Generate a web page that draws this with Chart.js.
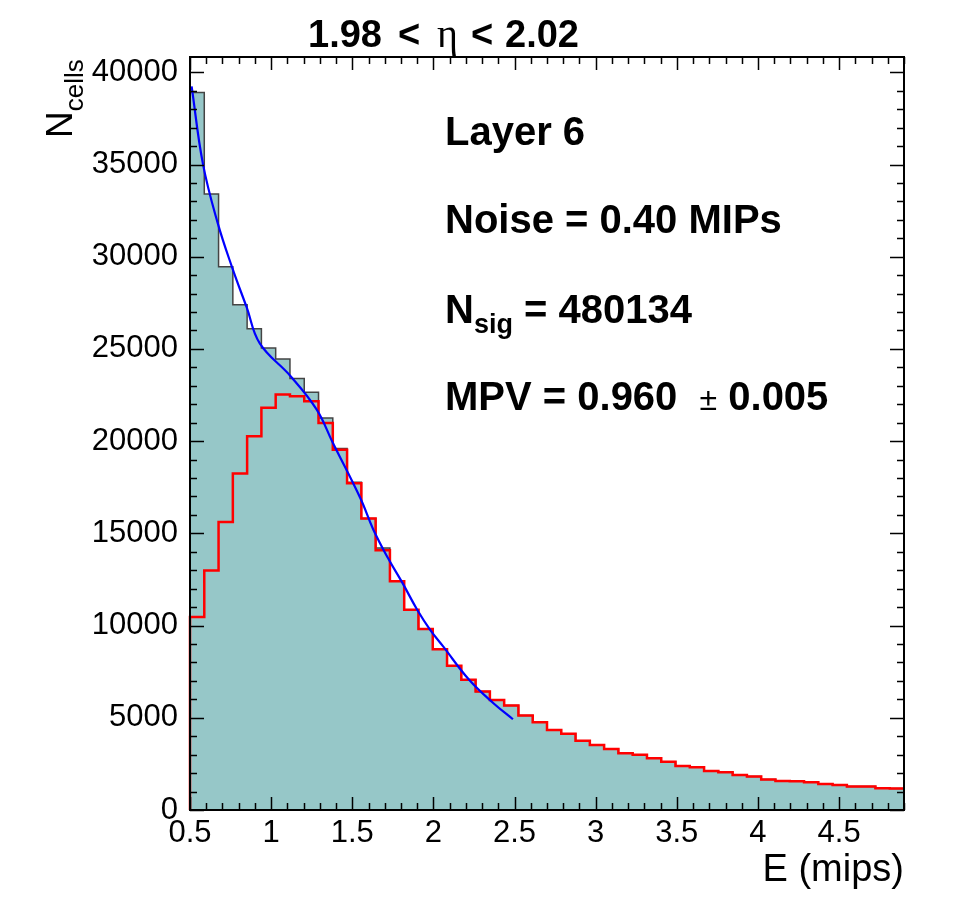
<!DOCTYPE html>
<html>
<head>
<meta charset="utf-8">
<script src="https://cdn.jsdelivr.net/npm/chart.js@4.4.1/dist/chart.umd.min.js"></script>
<style>
  html, body { margin: 0; padding: 0; background: #fff; }
</style>
</head>
<body>
<canvas id="histChart" width="960" height="897"></canvas>
<script>
// binning of the histograms
const xMin = 0.5;
const xMax = 4.9;
const nBins = 50;
const yMax = 40830;

// all cells above threshold (grey filled histogram)
const allCells = [38900, 33400, 29450, 27400, 26100, 25050, 24450, 23400, 22650, 21250,
  19600, 17770, 15800, 14200, 12400, 10860, 9810, 8720, 7820, 7060,
  6420, 5970, 5660, 5120, 4760, 4340, 4130, 3750, 3530, 3310,
  3080, 2990, 2800, 2620, 2390, 2320, 2120, 2050, 1900, 1810,
  1660, 1570, 1560, 1500, 1410, 1360, 1270, 1280, 1180, 1170];

// signal cells (red line)
const signalCells = [10460, 12980, 15620, 18240, 20270, 21810, 22530, 22440, 22170, 20990,
  19540, 17720, 15800, 14080, 12400, 10860, 9810, 8720, 7820, 7060,
  6420, 5970, 5660, 5120, 4760, 4340, 4130, 3750, 3530, 3310,
  3080, 2990, 2800, 2620, 2390, 2320, 2120, 2050, 1900, 1810,
  1660, 1570, 1560, 1500, 1410, 1360, 1270, 1280, 1180, 1170];

// fit curve
const fitE = [0.51, 0.58, 0.67, 0.76, 0.85, 0.93, 1.12, 1.28, 1.38, 1.55,
  1.63, 1.72, 1.81, 1.90, 1.98, 2.06, 2.22, 2.37, 2.49];
const fitN = [39240, 35020, 31850, 29410, 27240, 25300, 23520, 21720, 19910, 16900,
  15200, 13660, 12300, 10860, 9770, 8870, 7060, 5790, 4920];

// axis labels
const xTickValues = [0.5, 1, 1.5, 2, 2.5, 3, 3.5, 4, 4.5];
const yTickValues = [0, 5000, 10000, 15000, 20000, 25000, 30000, 35000, 40000];

const sans = "'Liberation Sans', Arial, sans-serif";

function stepData(counts) {
  const w = (xMax - xMin) / nBins;
  const pts = [{ x: xMin, y: 0 }];
  counts.forEach((c, i) => pts.push({ x: xMin + i * w, y: c }));
  pts.push({ x: xMax, y: counts[counts.length - 1] });
  return pts;
}

// frame, inner ticks and text, ROOT style
const rootFrame = {
  id: "rootFrame",
  afterDatasetsDraw(chart) {
    const { ctx, chartArea: a, scales } = chart;
    const xs = scales.x, ys = scales.y;
    ctx.save();
    ctx.strokeStyle = "#000";
    ctx.lineWidth = 1.5;
    ctx.beginPath();
    for (let i = 0; i <= 44; i++) {
      const v = xMin + i * 0.1;
      const len = i % 5 === 0 ? 13 : 7;
      const px = Math.round(xs.getPixelForValue(v)) + 0.5;
      ctx.moveTo(px, a.bottom); ctx.lineTo(px, a.bottom - len);
      ctx.moveTo(px, a.top); ctx.lineTo(px, a.top + len);
    }
    for (let v = 0; v <= yMax; v += 1000) {
      const len = v % 5000 === 0 ? 14 : 7;
      const py = Math.round(ys.getPixelForValue(v)) + 0.5;
      ctx.moveTo(a.left, py); ctx.lineTo(a.left + len, py);
      ctx.moveTo(a.right, py); ctx.lineTo(a.right - len, py);
    }
    ctx.stroke();
    ctx.lineWidth = 2;
    ctx.strokeRect(a.left, a.top, a.right - a.left, a.bottom - a.top);

    ctx.fillStyle = "#000";
    ctx.textBaseline = "alphabetic";

    // title, pieces spaced like TLatex
    const tFont = "bold 38px " + sans;
    ctx.font = tFont;
    ctx.fillText("1.98", 308, 47);
    ctx.fillText("<", 398, 47);
    ctx.font = "40px 'Liberation Serif', serif";
    ctx.fillText("\u03b7", 437, 47);
    ctx.font = tFont;
    ctx.fillText("<", 471, 47);
    ctx.fillText("2.02", 505, 47);

    // annotations
    const big = "bold 40px " + sans;
    ctx.font = big;
    ctx.fillText("Layer 6", 445, 145);
    ctx.fillText("Noise = 0.40 MIPs", 445, 233);
    ctx.fillText("N", 445, 323);
    let x = 445 + ctx.measureText("N").width;
    ctx.font = "bold 27px " + sans;
    ctx.fillText("sig", x, 333);
    x += ctx.measureText("sig").width;
    ctx.font = big;
    ctx.fillText(" = 480134", x, 323);
    ctx.fillText("MPV = 0.960  ", 445, 410);
    x = 445 + ctx.measureText("MPV = 0.960  ").width;
    ctx.font = "32px " + sans;
    ctx.fillText("\u00b1", x, 410);
    x += ctx.measureText("\u00b1").width;
    ctx.font = big;
    ctx.fillText(" 0.005", x, 410);

    // x axis title
    ctx.font = "38px " + sans;
    ctx.textAlign = "right";
    ctx.fillText("E (mips)", a.right, 881);

    // y axis title
    ctx.textAlign = "left";
    ctx.translate(72, 138);
    ctx.rotate(-Math.PI / 2);
    ctx.font = "37px " + sans;
    ctx.fillText("N", 0, 0);
    const wN = ctx.measureText("N").width;
    ctx.font = "26px " + sans;
    ctx.fillText("cells", wN, 11);
    ctx.restore();
  }
};

const ctx = document.getElementById("histChart").getContext("2d");
new Chart(ctx, {
  type: "line",
  data: {
    datasets: [
      {
        label: "fit",
        data: fitE.map((e, i) => ({ x: e, y: fitN[i] })),
        borderColor: "#0000ff",
        borderWidth: 2.2,
        pointRadius: 0,
        tension: 0.4,
        fill: false,
        order: 1
      },
      {
        label: "signal",
        data: stepData(signalCells),
        stepped: true,
        borderColor: "#ff0000",
        borderWidth: 2.5,
        pointRadius: 0,
        fill: false,
        clip: 4,
        order: 2
      },
      {
        label: "all",
        data: stepData(allCells),
        stepped: true,
        borderColor: "#444444",
        borderWidth: 1.5,
        backgroundColor: "#96c7c8",
        pointRadius: 0,
        fill: "origin",
        order: 3
      }
    ]
  },
  options: {
    responsive: false,
    animation: false,
    layout: { padding: { top: 57, right: 56, bottom: 0, left: 0 } },
    plugins: { legend: { display: false }, tooltip: { enabled: false }, title: { display: false } },
    scales: {
      x: {
        type: "linear",
        min: xMin,
        max: xMax,
        grid: { display: false, drawTicks: false },
        border: { display: false },
        afterBuildTicks: (scale) => { scale.ticks = xTickValues.map((v) => ({ value: v })); },
        afterFit: (scale) => { scale.height = 87; },
        ticks: {
          autoSkip: false,
          maxRotation: 0,
          padding: 5,
          color: "#000",
          font: { family: sans, size: 31 },
          callback: (v) => String(v)
        }
      },
      y: {
        type: "linear",
        min: 0,
        max: yMax,
        grid: { display: false, drawTicks: false },
        border: { display: false },
        afterBuildTicks: (scale) => { scale.ticks = yTickValues.map((v) => ({ value: v })); },
        afterFit: (scale) => { scale.width = 190; },
        ticks: {
          autoSkip: false,
          padding: 12,
          color: "#000",
          font: { family: sans, size: 31 },
          callback: (v) => String(v)
        }
      }
    }
  },
  plugins: [rootFrame]
});
</script>
</body>
</html>
